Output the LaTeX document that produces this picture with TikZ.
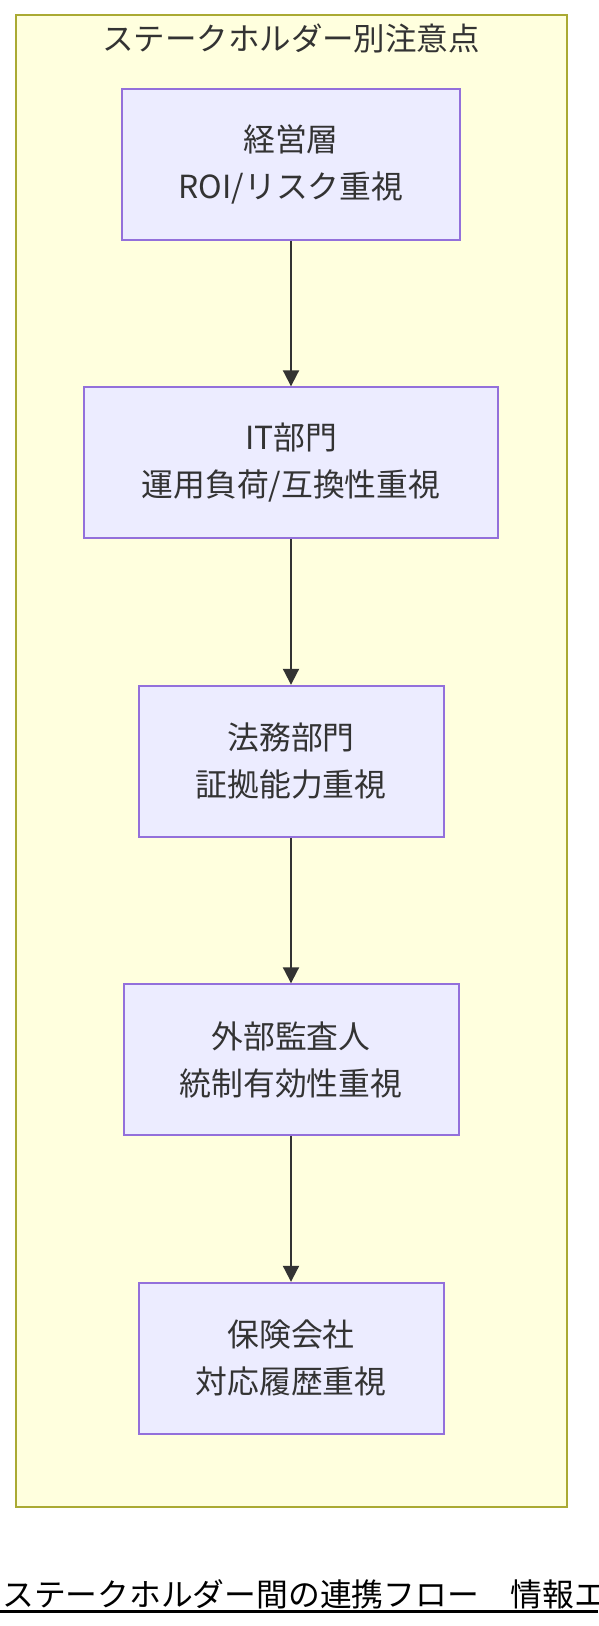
\documentclass[tikz,border=0pt]{standalone}
\usepackage{fontspec}
\setmainfont{Noto Sans CJK JP}
\usetikzlibrary{arrows.meta}
\definecolor{clfill}{HTML}{FFFFDE}
\definecolor{cldraw}{HTML}{AAAA33}
\definecolor{bxfill}{HTML}{ECECFF}
\definecolor{bxdraw}{HTML}{9370DB}
\definecolor{txt}{HTML}{333333}
\tikzset{
  stakebox/.style={draw=bxdraw,fill=bxfill,line width=2pt,text=txt,align=center,
    minimum height=151pt,inner sep=0pt,font=\fontsize{31.8}{47}\selectfont},
  flow/.style={line width=2pt,draw=txt,-{Triangle[length=16pt,width=16pt]}}
}
\begin{document}
\begin{tikzpicture}[x=1pt,y=-1pt]
                \useasboundingbox (0,0) rectangle (598,1626);
                \def\cx{291}
                %% group
                \node[draw=cldraw,fill=clfill,line width=2pt,minimum width=551pt,minimum height=1492pt,inner sep=0pt] (grp) at (\cx,761) {};
                \node[text=txt,font=\fontsize{31.5}{36}\selectfont,inner sep=0pt] (grptitle) at (\cx,38) {ステークホルダー別注意点};
                %% stakeholders
                \foreach \n/\y/\w/\t in {1/164.3/338/{経営層\\ROI/リスク重視},2/462.8/414/{IT部門\\運用負荷/互換性重視},3/761.3/305/{法務部門\\証拠能力重視},4/1059.8/335/{外部監査人\\統制有効性重視},5/1358.3/305/{保険会社\\対応履歴重視}}
                    \node[stakebox,minimum width=\w pt] (s\n) at (\cx,\y) {\t};
                %% flow
                \foreach \a/\b in {1/2,2/3,3/4,4/5} \draw[flow] (s\a) -- (s\b);
                %% heading below
                \node[anchor=west,inner sep=0pt,font=\fontsize{31.8}{36}\selectfont] (foot) at (2,1594) {ステークホルダー間の連携フロー　情報エ};
                \draw[line width=2.5pt] (0,1611.5) -- (598,1611.5);
            \end{tikzpicture}
\end{document}
